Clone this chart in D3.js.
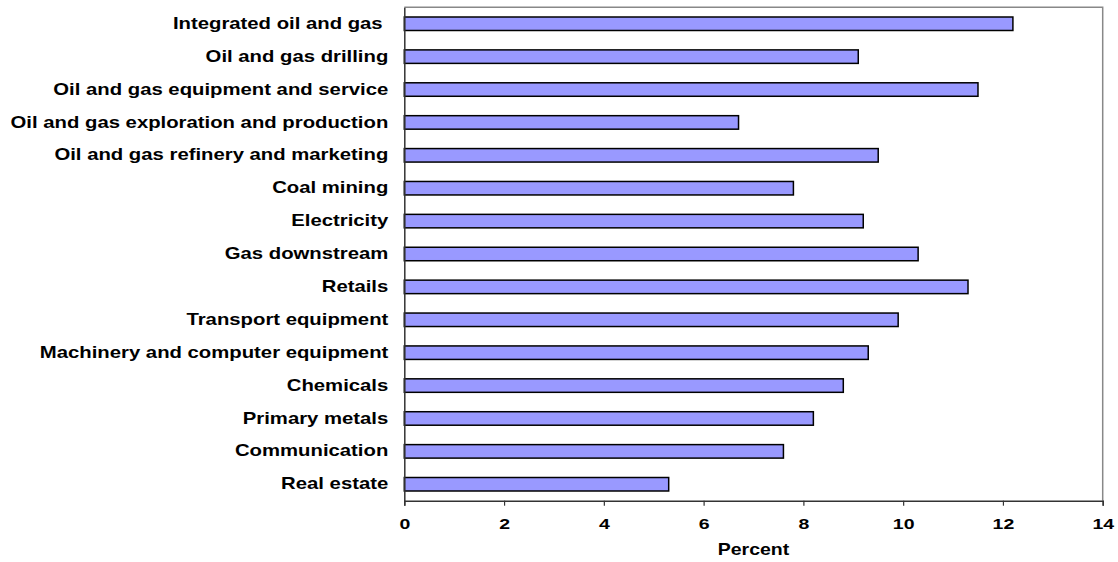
<!DOCTYPE html>
<html><head><meta charset="utf-8">
<script src="https://cdn.jsdelivr.net/npm/d3@7"></script>
<style>body{margin:0;background:#fff}svg{display:block}text{white-space:pre}</style>
</head><body><svg id="c" width="1118" height="562"></svg>
<script>
const categories = ["Integrated oil and gas ","Oil and gas drilling","Oil and gas equipment and service","Oil and gas exploration and production","Oil and gas refinery and marketing","Coal mining","Electricity","Gas downstream","Retails","Transport equipment","Machinery and computer equipment","Chemicals","Primary metals","Communication","Real estate"];
const values = [12.2,9.1,11.5,6.7,9.5,7.8,9.2,10.3,11.3,9.9,9.3,8.8,8.2,7.6,5.3];
const xTicks = [0,2,4,6,8,10,12,14];
const xTitle = "Percent";

const svg = d3.select("#c");
const L=404.3,R=1102.7,T=7.3,B=500.7;
const x=d3.scaleLinear().domain([0,14]).range([L,R]);
const y=d3.scaleBand().domain(categories).range([T,B]).paddingInner(0.59).paddingOuter(0.295);
const font="'Liberation Sans', Arial, sans-serif";

svg.append("path").attr("d",`M${L},${T}H${R}V${B}`).attr("fill","none").attr("stroke","#888").attr("stroke-width",1.5);

svg.append("g").selectAll("rect").data(values).join("rect")
  .attr("x",x(0)).attr("y",(d,i)=>y(categories[i]))
  .attr("width",d=>x(d)-x(0)).attr("height",y.bandwidth())
  .attr("fill","#9999FF").attr("stroke","#000").attr("stroke-width",1.5);

const xa=svg.append("g").attr("transform",`translate(0,${B})`)
  .call(d3.axisBottom(x).tickValues(xTicks).tickSize(5).tickPadding(13).tickFormat(d3.format("d")));
xa.select(".domain").attr("stroke","#333").attr("stroke-width",1.5);
xa.selectAll(".tick line").attr("stroke","#333").attr("stroke-width",1.2);
xa.selectAll("text").attr("font-family",font).attr("font-weight","bold").attr("font-size",15).attr("fill","#000")
  .each(function(){const t=d3.select(this);const yy=+t.attr("y");t.attr("y",0).attr("transform",`translate(0,${yy}) scale(1.3,1)`);});

const ya=svg.append("g").attr("transform",`translate(${L},0)`)
  .call(d3.axisLeft(y).tickSize(0).tickPadding(16));
ya.select(".domain").attr("stroke","#333").attr("stroke-width",1.5);
ya.selectAll("text").attr("font-family",font).attr("font-weight","bold").attr("font-size",16).attr("fill","#000")
  .each(function(){const t=d3.select(this);const xx=+t.attr("x");t.attr("x",0).attr("transform",`translate(${xx},0) scale(1.27,1)`);});

svg.append("text").attr("transform",`translate(${(L+R)/2},555) scale(1.22,1)`).attr("text-anchor","middle")
  .attr("font-family",font).attr("font-weight","bold").attr("font-size",16).text(xTitle);
</script></body></html>
